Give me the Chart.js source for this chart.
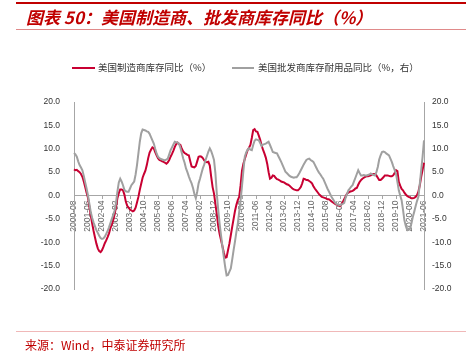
<!DOCTYPE html>
<html><head><meta charset="utf-8">
<script src="https://cdn.jsdelivr.net/npm/chart.js@4/dist/chart.umd.min.js"></script>
<style>
html,body{margin:0;padding:0;background:#fff;}
#wrap{position:relative;width:468px;height:362px;overflow:hidden;background:#fff;}
#c{position:absolute;left:0;top:0;}
.t{position:absolute;white-space:nowrap;font-family:"Noto Sans CJK SC",sans-serif;}
.ln{position:absolute;}
</style></head><body>
<div id="wrap">
<canvas id="c" width="468" height="362"></canvas>
<div class="ln" style="left:16px;top:2px;width:450px;height:2px;background:#c00000"></div>
<div class="t" style="left:26px;top:7px;font-size:17px;line-height:20px;font-weight:bold;font-style:italic;color:#c00000">图表 50：美国制造商、批发商库存同比（%）</div>
<div class="ln" style="left:16px;top:29px;width:450px;height:1px;background:#e08a8a"></div>
<div class="ln" style="left:72px;top:67px;width:23px;height:2px;background:#c80032"></div>
<div class="t" style="left:98px;top:61px;font-size:9.5px;line-height:13px;color:#333">美国制造商库存同比（%）</div>
<div class="ln" style="left:232px;top:67px;width:22px;height:2px;background:#a0a0a0"></div>
<div class="t" style="left:258px;top:61px;font-size:9.5px;line-height:13px;color:#333">美国批发商库存耐用品同比（%，右）</div>
<div class="ln" style="left:16px;top:331px;width:450px;height:1px;background:#f0b8b8"></div>
<div class="t" style="left:25px;top:338px;font-size:12px;line-height:14px;color:#c00000">来源：Wind，中泰证券研究所</div>
</div>
<script>
// categories: monthly from 2000-08 to 2021-06
const startYear = 2000, startMonth = 8, monthCount = 251;
const months = [];
for (let i = 0; i < monthCount; i++) {
  const t = startMonth - 1 + i;
  months.push((startYear + Math.floor(t / 12)) + '-' + String(t % 12 + 1).padStart(2, '0'));
}
const yTicks = [-20, -15, -10, -5, 0, 5, 10, 15, 20];

// 美国制造商库存同比（%）
const manufacturerInv = [
  5.6, 5.4, 5.5, 5.2, 5.0, 4.6, 4.0, 3.0, 1.8, 0.6,
  -0.5, -2.5, -4.3, -6.0, -7.6, -9.0, -10.3, -11.3, -11.9, -12.1,
  -11.7, -11.0, -10.2, -9.6, -8.9, -8.1, -7.0, -6.2, -5.3, -4.0,
  -2.5, -0.6, 0.5, 1.3, 1.3, 1.1, 0.2, -1.3, -2.2, -2.6,
  -3.0, -3.2, -3.4, -3.2, -2.6, -1.5, -0.3, 1.2, 2.5, 3.8,
  4.6, 5.3, 6.5, 8.0, 9.2, 9.8, 10.3, 10.1, 9.3, 8.6,
  8.0, 7.6, 7.5, 7.3, 7.2, 7.0, 6.8, 7.1, 7.6, 8.3,
  8.9, 9.6, 10.4, 11.0, 11.3, 11.0, 10.8, 10.0, 9.4, 9.1,
  8.9, 8.7, 8.6, 7.4, 6.2, 6.1, 6.0, 6.3, 7.3, 8.3,
  8.4, 8.3, 8.0, 7.5, 7.2, 7.1, 7.2, 6.4, 4.0, 1.8,
  0.4, -1.8, -4.0, -6.5, -8.2, -9.5, -10.8, -12.2, -13.3, -13.2,
  -11.7, -10.3, -8.5, -6.7, -5.0, -3.3, -2.0, -1.0, -0.3, 2.2,
  5.3, 6.8, 7.8, 8.8, 9.7, 10.2, 10.8, 12.3, 14.0, 14.2,
  13.7, 13.6, 12.8, 11.9, 10.7, 9.8, 9.0, 8.1, 6.8, 5.0,
  3.6, 3.8, 4.3, 4.2, 3.8, 3.5, 3.4, 3.2, 3.0, 2.9,
  2.8, 2.6, 2.4, 2.3, 2.1, 1.8, 1.5, 1.3, 1.2, 1.1,
  1.1, 1.4, 1.8, 2.6, 3.6, 3.5, 3.3, 3.3, 3.1, 2.9,
  2.6, 2.0, 1.5, 1.1, 0.7, 0.3, 0.0, -0.3, -0.4, -0.5,
  -0.6, -0.8, -0.8, -1.0, -1.3, -1.5, -1.7, -1.9, -2.0, -2.1,
  -2.3, -1.9, -1.4, -0.8, -0.2, 0.4, 0.6, 0.8, 0.9, 1.0,
  1.2, 1.5, 1.6, 2.3, 2.9, 3.3, 3.6, 3.8, 4.0, 4.1,
  4.1, 4.2, 4.3, 4.5, 4.6, 4.6, 4.3, 3.8, 3.3, 3.3,
  3.6, 3.9, 4.3, 4.3, 4.3, 4.2, 4.1, 4.1, 4.3, 4.8,
  5.4, 5.2, 2.9, 2.1, 1.4, 1.1, 0.6, 0.2, -0.1, -0.3,
  -0.4, -0.6, -0.6, -0.5, -0.3, 0.1, 0.8, 2.2, 4.0, 5.5,
  7.0
];

// 美国批发商库存耐用品同比（%，右）
const wholesaleDurableInv = [
  9.1, 8.8, 8.3, 7.3, 6.5, 6.0, 5.4, 4.2, 2.8, 1.5,
  0.0, -1.8, -3.6, -4.8, -5.8, -6.6, -7.4, -8.0, -8.6, -9.1,
  -9.3, -9.2, -8.8, -8.2, -7.6, -6.8, -5.9, -5.0, -4.2, -3.2,
  -1.6, 0.8, 2.8, 3.6, 3.0, 2.2, 1.2, 0.9, 0.8, 0.8,
  1.5, 2.2, 2.6, 3.0, 4.5, 6.5, 9.0, 11.5, 13.3, 14.1,
  14.0, 13.9, 13.7, 13.6, 13.2, 12.5, 11.8, 11.1, 10.0, 9.0,
  8.3, 8.0, 7.8, 7.7, 7.6, 7.5, 7.7, 7.9, 8.8, 9.7,
  10.3, 10.9, 11.5, 11.4, 11.3, 11.1, 10.2, 9.1, 7.9, 7.0,
  5.8, 5.0, 4.1, 3.3, 2.6, 1.6, 0.3, -0.6, 0.8, 2.6,
  3.6, 4.7, 5.8, 6.6, 7.6, 8.5, 9.4, 10.1, 9.5, 8.6,
  7.6, 4.8, 0.4, -3.0, -6.0, -8.5, -10.9, -13.1, -15.3, -17.1,
  -17.0, -16.3, -15.6, -13.7, -11.7, -9.8, -7.8, -6.0, -3.5, -1.0,
  2.0, 5.3, 8.3, 9.2, 9.8, 10.1, 9.8, 9.7, 10.8, 11.7,
  12.0, 11.9, 11.8, 11.2, 10.6, 10.9, 11.0, 11.1, 11.3, 11.5,
  10.8, 10.1, 9.3, 9.2, 9.1, 9.0, 8.4, 7.8, 7.2, 6.5,
  5.8, 5.1, 4.8, 4.5, 4.2, 4.0, 3.9, 3.8, 3.9, 3.9,
  4.3, 4.8, 5.4, 6.0, 6.6, 7.1, 7.6, 7.8, 7.9, 7.6,
  7.4, 7.2, 6.6, 6.0, 5.4, 4.9, 4.5, 4.0, 3.6, 2.9,
  2.2, 1.5, 0.9, 0.3, -0.3, -0.8, -1.3, -1.7, -1.9, -2.0,
  -2.1, -1.9, -1.8, -1.6, -0.5, 0.3, 1.1, 1.5, 1.9, 2.2,
  3.0, 3.8, 4.6, 5.4, 4.8, 4.3, 4.3, 4.4, 4.3, 4.3,
  4.4, 4.5, 4.7, 4.5, 4.4, 4.3, 5.0, 6.1, 7.7, 8.6,
  9.3, 9.4, 9.3, 9.0, 8.8, 8.6, 7.9, 7.2, 6.3, 5.5,
  4.7, 2.9, 1.1, 0.0, -1.0, -3.0, -5.3, -6.5, -7.4, -7.4,
  -7.1, -6.0, -4.6, -3.5, -2.3, -1.2, -0.3, 2.5, 5.5, 8.3,
  11.8
];

const labelEvery = 10;
const axisGray = '#a6a6a6';
const numFont = { family: '"Liberation Sans", Arial, sans-serif', size: 8.5 };

new Chart(document.getElementById('c'), {
  type: 'line',
  data: {
    labels: months,
    datasets: [
      { label: '美国制造商库存同比（%）', data: manufacturerInv, yAxisID: 'y',
        borderColor: '#c80032', borderWidth: 2, pointRadius: 0, order: 2 },
      { label: '美国批发商库存耐用品同比（%，右）', data: wholesaleDurableInv, yAxisID: 'y1',
        borderColor: '#a0a0a0', borderWidth: 2, pointRadius: 0, order: 1 }
    ]
  },
  options: {
    responsive: false,
    animation: false,
    devicePixelRatio: 1,
    layout: { padding: { top: 102, bottom: 73, left: 0, right: 0 } },
    plugins: { legend: { display: false }, tooltip: { enabled: false } },
    elements: { line: { tension: 0 } },
    scales: {
      x: {
        type: 'category',
        position: { y: 0 },
        offset: false,
        grid: { display: true, drawOnChartArea: false, drawTicks: true, tickLength: 3, tickColor: axisGray },
        border: { display: true, color: axisGray },
        ticks: {
          autoSkip: false, maxRotation: 90, minRotation: 90, padding: 2,
          color: '#666', font: numFont,
          callback: (v, i) => (i % labelEvery === 0 ? months[i] : null)
        }
      },
      y: {
        position: 'left', min: yTicks[0], max: yTicks[yTicks.length - 1],
        afterBuildTicks: s => { s.ticks = yTicks.map(v => ({ value: v })); },
        grid: { drawOnChartArea: false, drawTicks: false },
        border: { display: true, color: axisGray },
        ticks: { padding: 14, color: '#333', font: numFont, callback: v => Number(v).toFixed(1) },
        afterFit: s => { s.width = 74; }
      },
      y1: {
        position: 'right', min: yTicks[0], max: yTicks[yTicks.length - 1],
        afterBuildTicks: s => { s.ticks = yTicks.map(v => ({ value: v })); },
        grid: { drawOnChartArea: false, drawTicks: false },
        border: { display: true, color: axisGray },
        ticks: { padding: 8, color: '#333', font: numFont, callback: v => Number(v).toFixed(1) },
        afterFit: s => { s.width = 44; }
      }
    }
  }
});
</script>
</body></html>
